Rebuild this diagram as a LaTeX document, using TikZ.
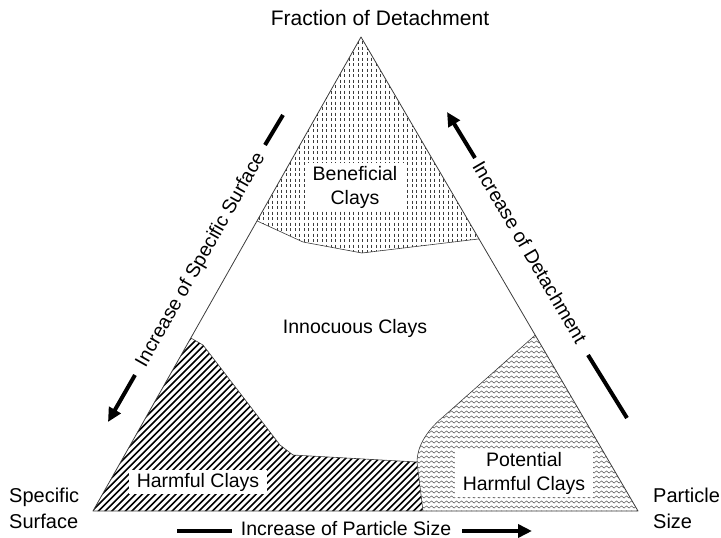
\documentclass[tikz,border=0pt]{standalone}
\usepackage{fontspec}
\setmainfont{Liberation Sans}
\usetikzlibrary{arrows.meta, calc, decorations.pathmorphing}
\definecolor{linecol}{RGB}{60, 60, 60}
\definecolor{dotcol}{RGB}{60, 60, 60}
\definecolor{wavecol}{RGB}{95, 95, 95}
\tikzset{
  edge/.style       = {draw=linecol, line width=0.8pt, line join=round},
  zoneline/.style   = {draw=linecol, line width=0.6pt, line join=round},
  clays/.style      = {fill=white, align=center, inner xsep=8pt, inner ysep=3pt},
  cornerlbl/.style  = {align=left, inner sep=0pt,
                       font=\fontsize{20}{26}\selectfont},
  trend/.style      = {draw=black, line width=4pt},
  trendarrow/.style = {trend, -{Triangle[length=14pt, width=13pt]}},
  % the three fills are drawn by hand, clipped to their zones
  dotfill/.style    = {draw=dotcol, line width=0.6pt, dash pattern=on 3pt off 2.5pt},
  hatchfill/.style  = {draw=black, line width=1.6pt},
  wavefill/.style   = {draw=wavecol, line width=0.55pt, decorate,
                       decoration={snake, segment length=5pt, amplitude=1.1pt}},
}

\begin{document}
\begin{tikzpicture}[x=1pt, y=-1pt, font=\fontsize{19.5}{24}\selectfont]
  \useasboundingbox (0,0) rectangle (721,538);

  %% ---------------- the triangle ----------------
  \coordinate (apex) at (361,37);
  \coordinate (ss)   at (93,511);
  \coordinate (ps)   at (638,511);

  % where the zone borders meet the sides
  \coordinate (benL) at ($(apex)!0.388!(ss)$);
  \coordinate (benR) at ($(apex)!0.426!(ps)$);
  \coordinate (harL) at ($(apex)!0.635!(ss)$);
  \coordinate (potR) at ($(apex)!0.629!(ps)$);
  \coordinate (foot) at (423,511);

  %% ---------------- beneficial zone ----------------
  \begin{scope}
    \clip (apex) -- (benL) -- (303,242) -- (362,253) -- (benR) -- cycle;
    \foreach \x in {250,254.5,...,490} {
      \draw[dotfill] (\x,30) -- (\x,260);
    }
  \end{scope}
  \draw[zoneline] (benL) -- (303,242) -- (362,253) -- (benR);

  %% ---------------- harmful zone ----------------
  \begin{scope}
    \clip (ss) -- (harL) -- (203,345) -- (280,445) -- (293,455)
          -- (417,462) -- (foot) -- cycle;
    \foreach \x in {-160,-153.3,...,430} {
      \draw[hatchfill] (\x,515) -- ++(200,-200);
    }
  \end{scope}
  \draw[zoneline] (harL) -- (203,345) -- (280,445) -- (293,455)
        -- (417,462) -- (foot);

  %% ---------------- potential harmful zone ----------------
  \begin{scope}
    \clip (potR) -- (443,417) .. controls (425,432) and (417,448) .. (417,462)
          -- (foot) -- (ps) -- cycle;
    \foreach \y in {332,337,...,515} {
      \draw[wavefill] (405,\y) -- (645,\y);
    }
  \end{scope}
  \draw[zoneline] (potR) -- (443,417) .. controls (425,432) and (417,448) .. (417,462);

  \draw[edge] (apex) -- (ss) -- (ps) -- cycle;

  %% ---------------- zone labels ----------------
  \node[clays] (ben) at (355,187) {Beneficial\\Clays};
  \node[anchor=base] (inn) at (355,333) {Innocuous Clays};
  \node[clays] (har) at (198,482) {Harmful Clays};
  \node[clays] (pot) at (524,473) {Potential\\Harmful Clays};

  %% ---------------- corners ----------------
  \node[anchor=base, font=\fontsize{21}{26}\selectfont] (fod) at (380,25)
       {Fraction of Detachment};
  \node[cornerlbl, anchor=north west] (sslbl) at (9,488) {Specific\\Surface};
  \node[cornerlbl, anchor=north west] (pslbl) at (653,488) {Particle\\Size};

  %% ---------------- trends along the sides ----------------
  \node[rotate=60.5] (iss) at (201,260) {Increase of Specific Surface};
  \coordinate (issA) at (283,115);
  \coordinate (issB) at (265,145);
  \coordinate (issC) at (135,375);
  \coordinate (issD) at (108,422);
  \draw[trend] (issA) -- (issB);
  \draw[trendarrow] (issC) -- (issD);

  \node[rotate=-59.7] (iod) at (530,252) {Increase of Detachment};
  \coordinate (iodA) at (475,158);
  \coordinate (iodB) at (447,112);
  \coordinate (iodC) at (588,355);
  \coordinate (iodD) at (627,418);
  \draw[trendarrow] (iodA) -- (iodB);
  \draw[trend] (iodC) -- (iodD);

  \node[anchor=base] (ips) at (346,535) {Increase of Particle Size};
  \coordinate (ipsA) at (177,531);
  \coordinate (ipsB) at (232,531);
  \coordinate (ipsC) at (462,531);
  \coordinate (ipsD) at (532,531);
  \draw[trend] (ipsA) -- (ipsB);
  \draw[trendarrow] (ipsC) -- (ipsD);

\end{tikzpicture}
\end{document}
